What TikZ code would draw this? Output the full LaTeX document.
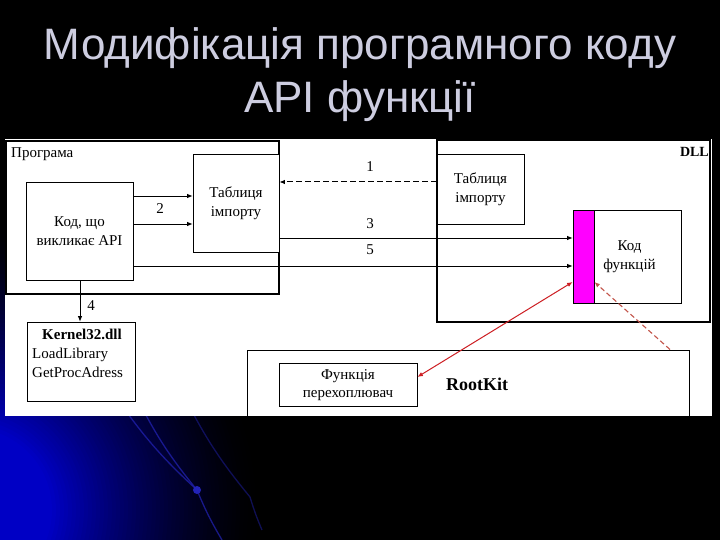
\documentclass[tikz,border=0pt]{standalone}
\usepackage{fontspec}
\setmainfont{Liberation Serif}
\newfontfamily\titlefont{Liberation Sans}
\usetikzlibrary{arrows.meta}
\definecolor{titlecol}{RGB}{205,205,224}
\definecolor{glowblue}{RGB}{0,0,200}
\definecolor{decoblue}{RGB}{35,35,185}
\definecolor{rkred}{RGB}{205,30,35}
\definecolor{rkdash}{RGB}{195,85,75}
\definecolor{barmag}{RGB}{255,0,255}
\tikzset{
  box/.style={draw, line width=0.8pt, fill=white, inner sep=0pt, align=center, font=\fontsize{15}{19}\selectfont},
  bigbox/.style={draw, line width=1.3pt, inner sep=0pt},
  lbl/.style={font=\fontsize{15}{19}\selectfont, inner sep=0pt},
  arr/.style={-{Latex[length=5.5pt,width=4.5pt]}, line width=0.8pt},
  deco/.style={draw=decoblue, line width=1.3pt, opacity=0.7},
}
\begin{document}
\begin{tikzpicture}[x=1pt,y=-1pt]
\useasboundingbox (0,0) rectangle (720,540);
\fill[black] (0,0) rectangle (720,540);
\begin{scope}
\clip (0,0) rectangle (720,540);
\foreach \r in {290,286,...,80} {
  \pgfmathsetmacro\p{100*((290-\r)/210)^1.5}
  \fill[glowblue!\p!black] (-30,510) circle[radius=\r pt];
}
\end{scope}
% decorative arcs
\draw[deco] (118,400) to[bend right=6] (197,490) to[bend right=4] (222,540);
\draw[deco] (138,400) to[bend right=6] (197,490);
\draw[deco, opacity=0.45] (186,400) to[bend right=6] (250,497) to[bend right=3] (262,530);
\fill[decoblue] (197,490) circle[radius=4pt];
% title
\node[titlecol, font=\titlefont\fontsize{44}{53}\selectfont, anchor=base, inner sep=0pt] (t1) at (360,60) {Модифікація програмного коду};
\node[titlecol, font=\titlefont\fontsize{44}{53}\selectfont, anchor=base, inner sep=0pt] (t2) at (360,113) {API функції};
% panel
\fill[white] (5,139) rectangle (712,416);
% outer boxes
\node[bigbox, minimum width=273, minimum height=153] (prog) at (142.5,217.5) {};
\node[lbl, anchor=base west] (progt) at (11,158) {Програма};
\node[bigbox, minimum width=273, minimum height=182] (dll) at (573.5,231) {};
\node[lbl, anchor=base east, font=\bfseries\fontsize{14}{19}\selectfont] (dllt) at (709,157) {DLL};
% inner boxes
\node[box, minimum width=107, minimum height=98] (kod) at (79.5,231) {Код, що\\викликає API};
\node[box, minimum width=86, minimum height=98] (tab1) at (236,203) {Таблиця\\імпорту};
\node[box, minimum width=87, minimum height=70] (tab2) at (480.5,189) {Таблиця\\імпорту};
\node[box, minimum width=108, minimum height=93] (fcode) at (627,256.5) {\hspace*{5pt}Код\\\hspace*{5pt}функцій};
\node[draw, line width=0.8pt, fill=barmag, inner sep=0pt, minimum width=21, minimum height=93] (bar) at (583.5,256.5) {};
\node[box, minimum width=108, minimum height=79] (kern) at (81,361.5) {};
\node[lbl, anchor=base, font=\bfseries\fontsize{15}{19}\selectfont] (kernt) at (82,339) {Kernel32.dll};
\node[lbl, anchor=base west] (ll) at (32,358) {LoadLibrary};
\node[lbl, anchor=base west] (gpa) at (32,377) {GetProcAdress};
\node[box, line width=1pt, minimum width=442, minimum height=66] (rk) at (468,383) {};
\node[lbl, font=\bfseries\fontsize{18}{22}\selectfont] (rkt) at (477,384) {RootKit};
\node[box, minimum width=138, minimum height=43, font=\fontsize{15}{17.5}\selectfont] (hook) at (348,385) {Функція\\перехоплювач};
% connectors
\draw[arr] (kod.east |- 0,196) -- (tab1.west |- 0,196);
\draw[arr] (kod.east |- 0,224) -- (tab1.west |- 0,224);
\node[lbl] (n2) at (160,209) {2};
\draw[arr, line width=1pt, dash pattern=on 6pt off 3pt] (tab2.west |- 0,182) -- (tab1.east |- 0,182);
\node[lbl] (n1) at (370,167) {1};
\draw[arr] (tab1.east |- 0,238) -- (bar.west |- 0,238);
\node[lbl] (n3) at (370,224) {3};
\draw[arr] (kod.east |- 0,266) -- (bar.west |- 0,266);
\node[lbl] (n5) at (370,250) {5};
\draw[arr] (kod.south -| 80,0) -- (kern.north -| 80,0);
\node[lbl] (n4) at (91,306) {4};
\draw[rkred, line width=1pt, {Latex[length=5.5pt,width=4.5pt]}-{Latex[length=5.5pt,width=4.5pt]}] (hook.east |- 0,377) -- (bar.west |- 0,282);
\draw[rkdash, line width=1.1pt, dash pattern=on 5pt off 3pt, -{Latex[length=5.5pt,width=4.5pt]}] (rk.north -| 670,0) -- (bar.east |- 0,282);
\end{tikzpicture}
\end{document}
